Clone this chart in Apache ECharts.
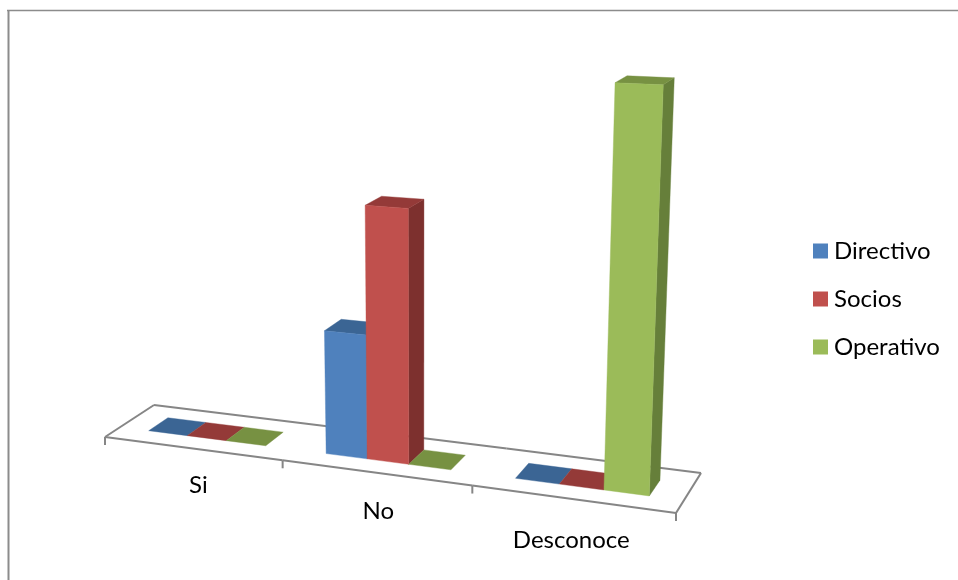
<!DOCTYPE html>
<html><head><meta charset="utf-8">
<style>html,body{margin:0;padding:0;background:#fff}#c{width:958px;height:580px}</style>
<script src="https://cdn.jsdelivr.net/npm/echarts@6/dist/echarts.min.js"></script>
</head><body><div id="c"></div>
<script>
const categories = ['Si', 'No', 'Desconoce'];
const seriesNames = ['Directivo', 'Socios', 'Operativo'];
const directivo = [0, 32, 0];
const socios = [0, 65.5, 0];
const operativo = [0, 0, 100];

const FONT = 'Lato, "Open Sans", sans-serif';
const LINE = '#868686';
const faceColors = ['#4F81BD', '#C0504D', '#9BBB59'];
const topColors = ['#3B6594', '#943A38', '#779142'];
const sideColors = ['#315078', '#7D302E', '#667F3A'];

// projective map of the floor: (u along the axis, d into the depth) -> pixels
const P0 = [105, 437], P1 = [676, 513], P2 = [701, 473], P3 = [154, 405];
function det(a, b) { return a[0] * b[1] - a[1] * b[0]; }
const d1 = [P1[0] - P2[0], P1[1] - P2[1]], d2 = [P3[0] - P2[0], P3[1] - P2[1]];
const sm = [P0[0] - P1[0] + P2[0] - P3[0], P0[1] - P1[1] + P2[1] - P3[1]];
const G = det(sm, d2) / det(d1, d2), H = det(d1, sm) / det(d1, d2);
function floorPt(u, d) {
  const w = 1 + G * u + H * d;
  return [
    (P0[0] + (P1[0] * (1 + G) - P0[0]) * u + (P3[0] * (1 + H) - P0[0]) * d) / w + 12 * u * (1 - u),
    (P0[1] + (P1[1] * (1 + G) - P0[1]) * u + (P3[1] * (1 + H) - P0[1]) * d) / w,
    1 / w
  ];
}
function makeProjector(api) {
  const a = api.coord([0, 0]), b = api.coord([categories.length, 0]);
  return function (cat, d, value) {
    const c = api.coord([cat, value]);
    const base = api.coord([cat, 0]);
    const u = (c[0] - a[0]) / (b[0] - a[0]);
    const f = floorPt(u, d);
    const h = (base[1] - c[1]) * f[2];
    return [f[0] + (f[0] - 420) * h * 1.48e-4, f[1] - h];
  };
}
const BAR = 1 / 4.5, GAP = 0.75 * BAR, D0 = 0.3, D1 = 0.7;

function barSeries(name, idx, values) {
  return {
    type: 'custom', name, z: 3 + idx, silent: true, coordinateSystem: 'cartesian2d',
    itemStyle: { color: faceColors[idx] },
    data: values.map((v, i) => [i, v]),
    renderItem(params, api) {
      const p = makeProjector(api);
      const cat = api.value(0), v = api.value(1);
      const x0 = cat + GAP + idx * BAR, x1 = x0 + BAR;
      const poly = (pts, fill) => ({ type: 'polygon', shape: { points: pts }, style: { fill, stroke: fill, lineWidth: 0.4 } });
      const top = [p(x0, D0, v), p(x1, D0, v), p(x1, D1, v), p(x0, D1, v)];
      const children = [];
      if (v > 0) {
        children.push(poly([p(x1, D0, 0), p(x1, D1, 0), p(x1, D1, v), p(x1, D0, v)], sideColors[idx]));
      }
      children.push(poly(top, topColors[idx]));
      if (v > 0) {
        children.push(poly([p(x0, D0, 0), p(x1, D0, 0), p(x1, D0, v), p(x0, D0, v)], faceColors[idx]));
      }
      return { type: 'group', children };
    }
  };
}

const floorSeries = {
  type: 'custom', name: 'floor', z: 1, silent: true, coordinateSystem: 'cartesian2d',
  data: categories.map((c, i) => [i, 0]),
  renderItem(params, api) {
    const p = makeProjector(api);
    const i = api.value(0);
    const n = categories.length;
    const line = (a, b) => ({ type: 'line', shape: { x1: a[0], y1: a[1], x2: b[0], y2: b[1] }, style: { stroke: LINE, lineWidth: 2 } });
    const children = [];
    const a0 = p(i, 0, 0), a1 = p(i + 1, 0, 0), b0 = p(i, 1, 0), b1 = p(i + 1, 1, 0);
    children.push(line(a0, a1), line(b0, b1));
    children.push(line(a0, [a0[0], a0[1] + 8]));
    if (i === 0) children.push(line(a0, b0));
    if (i === n - 1) {
      children.push(line(a1, b1), line(a1, [a1[0], a1[1] + 8]));
    }
    const m = p(i + 0.5, 0, 0);
    children.push({
      type: 'text',
      style: {
        text: categories[i], x: m[0] + 6 - 3.5 * i, y: m[1] + 36.5 + 2.5 * i,
        align: 'center', verticalAlign: 'middle', font: '24px ' + FONT, fill: '#000'
      }
    });
    return { type: 'group', children };
  }
};

const chart = echarts.init(document.getElementById('c'), null, { renderer: 'canvas' });
chart.setOption({
  animation: false,
  backgroundColor: '#fff',
  grid: { left: 105, width: 571, top: 99, height: 372 },
  xAxis: { type: 'value', min: 0, max: 3, show: false },
  yAxis: { type: 'value', min: 0, max: 100, show: false },
  legend: {
    data: seriesNames, orient: 'vertical', left: 813, top: 239, icon: 'rect',
    itemWidth: 15, itemHeight: 15, itemGap: 24, padding: 0, selectedMode: false,
    textStyle: { fontFamily: FONT, fontSize: 24, color: '#000', padding: [0, 0, 0, 1] }
  },
  graphic: [
    { type: 'line', silent: true, shape: { x1: 7, y1: 10.5, x2: 958, y2: 10.5 }, style: { stroke: '#8c8c8c', lineWidth: 1.6 } },
    { type: 'line', silent: true, shape: { x1: 8.5, y1: 10, x2: 8.5, y2: 580 }, style: { stroke: '#8c8c8c', lineWidth: 2 } }
  ],
  series: [
    floorSeries,
    barSeries(seriesNames[0], 0, directivo),
    barSeries(seriesNames[1], 1, socios),
    barSeries(seriesNames[2], 2, operativo)
  ]
});
</script></body></html>
